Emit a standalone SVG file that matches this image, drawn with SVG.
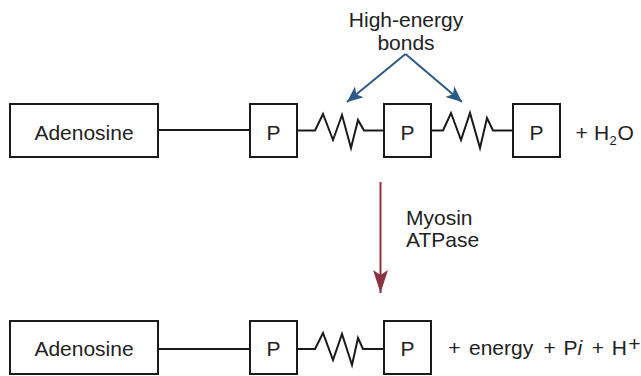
<svg xmlns="http://www.w3.org/2000/svg" width="641" height="376" viewBox="0 0 641 376">
<style>
.box{fill:#fff;stroke:#1a1a1a;stroke-width:2}
.t{font-family:"Liberation Sans",Arial,sans-serif;font-size:21px;fill:#222}
.c{text-anchor:middle}
.ln{fill:none;stroke:#1a1a1a;stroke-width:2;stroke-linejoin:miter}
.blue{fill:none;stroke:#2a5a85;stroke-width:2}
.red{fill:none;stroke:#8a3442;stroke-width:2}
</style>
<defs>
<marker id="ab" markerUnits="userSpaceOnUse" markerWidth="18" markerHeight="16" refX="16" refY="7" orient="auto" viewBox="0 0 18 16">
<path d="M0,0 L16,7 L0,14 L4,7 Z" fill="#2a5a85"/>
</marker>
<marker id="ar" markerUnits="userSpaceOnUse" markerWidth="24" markerHeight="16" refX="23" refY="7.5" orient="auto" viewBox="0 0 24 16">
<path d="M0,0 L23,7.5 L0,15 L5,7.5 Z" fill="#8a3442"/>
</marker>
</defs>
<g id="connectors">
<line class="ln" x1="158" y1="130" x2="250" y2="130"/>
<polyline class="ln" points="297,130.5 315,130.5 323,114 333,140 342,115 351,148 358,120 364,130.5 384,130.5"/>
<polyline class="ln" points="431,130.5 443,130.5 451,113 461,140 470,113 480,148 487,118 493,130.5 513,130.5"/>
<line class="ln" x1="158" y1="349" x2="250" y2="349"/>
<polyline class="ln" points="297,349 315,349 323,333 333,360 342,334 352,365 358,338 363,349 384,349"/>
<line class="blue" x1="405.5" y1="54" x2="347" y2="102" marker-end="url(#ab)"/>
<line class="blue" x1="405.5" y1="54" x2="462" y2="102" marker-end="url(#ab)"/>
<line class="red" x1="380.5" y1="182" x2="380.5" y2="293" marker-end="url(#ar)"/>
</g>
<g id="label-bonds">
<text class="t c" x="406" y="27">High-energy</text>
<text class="t c" x="406" y="50">bonds</text>
</g>
<g id="label-atpase">
<text class="t" x="406" y="225">Myosin</text>
<text class="t" x="406" y="247">ATPase</text>
</g>
<g id="adenosine-top">
<rect class="box" x="10" y="104" width="148" height="53"/>
<text class="t c" x="84" y="140">Adenosine</text>
</g>
<g id="p1-top">
<rect class="box" x="250" y="104" width="47" height="53"/>
<text class="t c" x="273.5" y="140">P</text>
</g>
<g id="p2-top">
<rect class="box" x="384" y="104" width="47" height="53"/>
<text class="t c" x="407.5" y="140">P</text>
</g>
<g id="p3-top">
<rect class="box" x="513" y="104" width="47" height="53"/>
<text class="t c" x="536.5" y="140">P</text>
</g>
<g id="water">
<text class="t c" x="581.7" y="140">+</text>
<text class="t" x="594" y="140">H<tspan x="609.5" y="145" font-size="13">2</tspan><tspan x="617.5" y="140">O</tspan></text>
</g>
<g id="adenosine-bottom">
<rect class="box" x="10" y="321" width="148" height="53"/>
<text class="t c" x="84" y="356">Adenosine</text>
</g>
<g id="p1-bottom">
<rect class="box" x="250" y="321" width="47" height="53"/>
<text class="t c" x="273.5" y="356">P</text>
</g>
<g id="p2-bottom">
<rect class="box" x="384" y="321" width="47" height="53"/>
<text class="t c" x="407.5" y="356">P</text>
</g>
<g id="products">
<text class="t c" x="454.5" y="355">+</text>
<text class="t" x="469" y="355">energy</text>
<text class="t c" x="549.7" y="355">+</text>
<text class="t" x="563.5" y="355">P<tspan font-style="italic">i</tspan></text>
<text class="t c" x="597.9" y="355">+</text>
<text class="t" x="611.7" y="355">H</text>
<text class="t c" x="634.5" y="351" font-size="17">+</text>
</g>
</svg>
